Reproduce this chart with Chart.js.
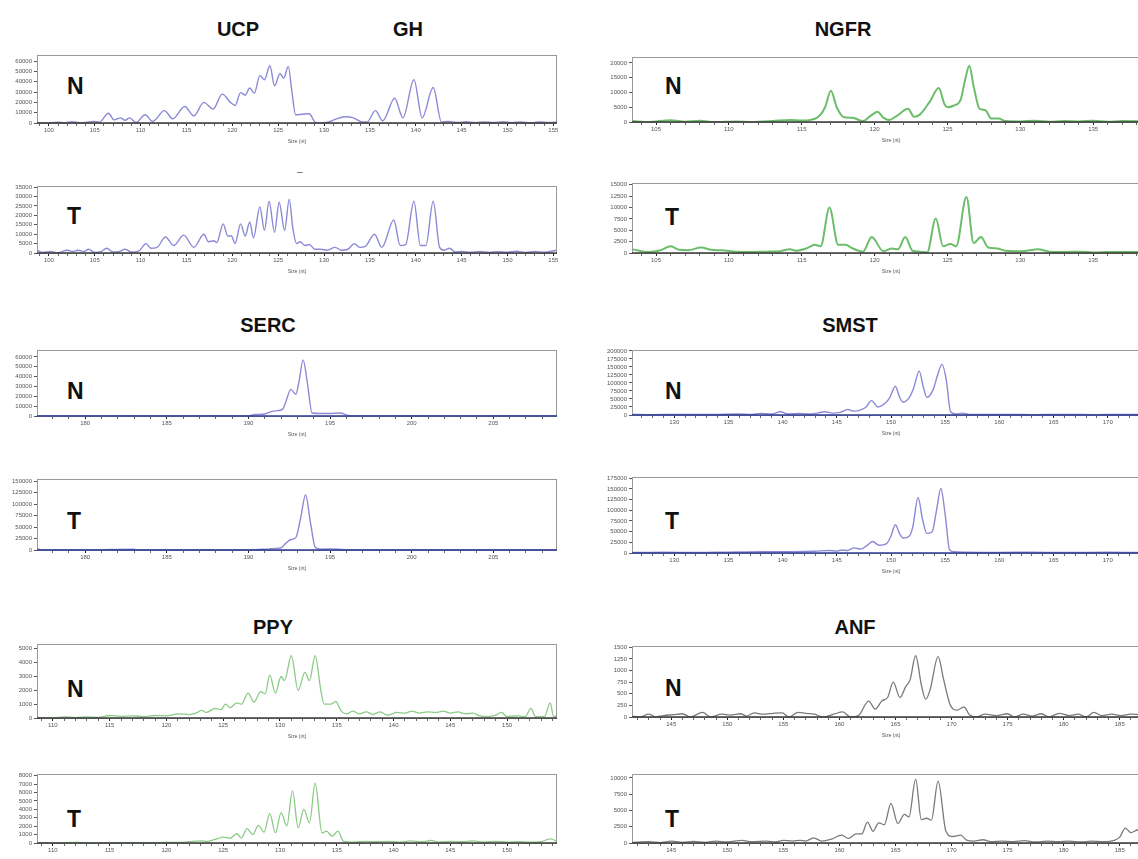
<!DOCTYPE html>
<html>
<head>
<meta charset="utf-8">
<script src="https://cdn.jsdelivr.net/npm/chart.js@4.4.1/dist/chart.umd.min.js"></script>
<style>
  body { margin: 0; width: 1138px; height: 859px; overflow: hidden; background: #fff; position: relative;
         font-family: "Liberation Sans", Arial, sans-serif; }
  canvas { position: absolute; }
  .ttl { position: absolute; font-weight: bold; font-size: 20px; line-height: 1; transform: translate(-50%, -50%); color: #111; }
  .lt { position: absolute; font-weight: bold; font-size: 23px; line-height: 1; transform: translateY(-50%); color: #111; }
</style>
</head>
<body>
<div class="ttl" style="left:238px;top:29px">UCP</div>
<div class="ttl" style="left:408px;top:29px">GH</div>
<div class="ttl" style="left:843px;top:29px">NGFR</div>
<div class="ttl" style="left:268px;top:325px">SERC</div>
<div class="ttl" style="left:850px;top:325px">SMST</div>
<div class="ttl" style="left:273px;top:627px">PPY</div>
<div class="ttl" style="left:855px;top:627px">ANF</div>
<div style="position:absolute;left:297px;top:166px;font-size:10px;color:#555">–</div>

<div class="lt" style="left:67px;top:86px">N</div>
<div class="lt" style="left:67px;top:216px">T</div>
<div class="lt" style="left:665px;top:86px">N</div>
<div class="lt" style="left:665px;top:217px">T</div>
<div class="lt" style="left:67px;top:391px">N</div>
<div class="lt" style="left:67px;top:521px">T</div>
<div class="lt" style="left:665px;top:391px">N</div>
<div class="lt" style="left:665px;top:521px">T</div>
<div class="lt" style="left:67px;top:689px">N</div>
<div class="lt" style="left:67px;top:819px">T</div>
<div class="lt" style="left:665px;top:688px">N</div>
<div class="lt" style="left:665px;top:819px">T</div>

<script>
// tick labels (size axis and RFU axis)
const ucpXTicks = [100, 105, 110, 115, 120, 125, 130, 135, 140, 145, 150, 155];
const ngfrXTicks = [105, 110, 115, 120, 125, 130, 135];
const sercXTicks = [180, 185, 190, 195, 200, 205];
const smstXTicks = [130, 135, 140, 145, 150, 155, 160, 165, 170];
const ppyXTicks = [110, 115, 120, 125, 130, 135, 140, 145, 150];
const anfXTicks = [145, 150, 155, 160, 165, 170, 175, 180, 185];

const ucpNYTicks = [0, 10000, 20000, 30000, 40000, 50000, 60000];
const ucpTYTicks = [0, 5000, 10000, 15000, 20000, 25000, 30000, 35000];
const ngfrNYTicks = [0, 5000, 10000, 15000, 20000];
const ngfrTYTicks = [0, 2500, 5000, 7500, 10000, 12500, 15000];
const sercNYTicks = [0, 10000, 20000, 30000, 40000, 50000, 60000];
const sercTYTicks = [0, 25000, 50000, 75000, 100000, 125000, 150000];
const smstNYTicks = [0, 25000, 50000, 75000, 100000, 125000, 150000, 175000, 200000];
const smstTYTicks = [0, 25000, 50000, 75000, 100000, 125000, 150000, 175000];
const ppyNYTicks = [0, 1000, 2000, 3000, 4000, 5000];
const ppyTYTicks = [0, 1000, 2000, 3000, 4000, 5000, 6000, 7000, 8000];
const anfNYTicks = [0, 250, 500, 750, 1000, 1250, 1500];
const anfTYTicks = [0, 2500, 5000, 7500, 10000];

// traces: [size (nt), signal]
const ucpN = [[98.7,500],[99.5,0],[100.3,300],[101,800],[101.8,200],[102.5,1200],[103.3,300],[104,500],[104.8,1500],[105.5,800],[106.5,9500],[107.1,3000],[107.8,5000],[108.3,2500],[108.8,5000],[109.5,500],[110.5,8000],[111.3,1500],[112.6,12000],[113.5,4000],[114.8,16000],[115.8,7000],[116.9,20000],[117.9,13500],[118.9,28000],[119.8,20000],[120.3,17000],[120.9,29500],[121.4,27000],[121.9,34000],[122.4,29000],[123.0,46000],[123.5,42000],[124.1,55500],[124.6,36000],[125.2,48000],[125.6,43500],[126.1,55000],[126.5,30000],[126.9,8000],[127.6,8500],[128.4,9000],[129.0,1000],[129.5,0],[130.5,1000],[131.2,3500],[132.3,6000],[133.2,5000],[134.2,1000],[134.7,1000],[135.6,12000],[136.4,2000],[137.7,24000],[138.6,5000],[139.8,42000],[140.7,5000],[141.9,34500],[142.8,1000],[143.5,1500],[144.5,600],[145.5,1200],[146.5,400],[147.5,1000],[148.5,500],[149.5,1200],[150.5,400],[151.5,1000],[152.5,300],[153.5,900],[154.5,500],[155.4,1000]];
const ucpT = [[98.7,1500],[99.3,300],[100.2,800],[101,200],[102,1500],[102.6,800],[103.2,1500],[103.8,700],[104.3,2000],[105,300],[105.7,800],[106.3,2500],[107,500],[107.7,800],[108.3,2000],[109,500],[109.8,1000],[110.6,5000],[111.1,2500],[111.8,3000],[112.7,8500],[113.6,4000],[114.7,9500],[115.8,3000],[116.9,10000],[117.4,6000],[118,6500],[118.3,5500],[119.0,15500],[119.5,9000],[119.9,9000],[120.3,5000],[120.9,15500],[121.4,9000],[121.9,16500],[122.3,8000],[123.0,24500],[123.5,12000],[124.0,27500],[124.6,11000],[125.1,27000],[125.7,12000],[126.2,28500],[126.6,13000],[127.0,5000],[127.4,6000],[127.9,4000],[128.4,4500],[129,2000],[129.6,2000],[130.3,1500],[131.2,3000],[131.9,1500],[132.6,2000],[133.3,5000],[133.9,3000],[134.5,3500],[135.5,10000],[136.3,3000],[137.6,17500],[138.3,4000],[138.9,4500],[139.8,27500],[140.5,4000],[141.1,4000],[141.9,27500],[142.6,3000],[143.1,1500],[143.7,2500],[144.3,500],[145,800],[146,400],[147,800],[148,300],[149,700],[150,400],[151,900],[152,300],[153,800],[154,400],[155.4,1500]];
const ngfrN = [[103.4,300],[104.5,0],[106,600],[107,100],[108,400],[109,0],[110.5,200],[111.5,0],[113,300],[114.2,700],[115,500],[115.5,600],[116.2,2000],[116.6,5000],[117.0,10600],[117.4,5000],[117.9,1600],[118.5,1400],[119.2,300],[119.7,2000],[120.2,3500],[120.6,1500],[121.0,700],[121.5,2000],[122.3,4500],[122.7,1800],[123.1,2500],[123.8,7000],[124.4,11500],[124.8,6000],[125.0,5000],[125.4,5500],[125.9,7500],[126.2,14000],[126.5,19000],[126.8,12000],[127.2,4500],[127.6,4000],[128.0,1200],[128.5,1200],[129,300],[130,200],[131,400],[132,100],[133,300],[134,200],[135,400],[136,100],[137,300],[138.9,200]];
const ngfrT = [[103.4,800],[104.5,200],[105.3,600],[106,1500],[106.6,700],[107.2,600],[108.1,1200],[108.8,700],[109.5,600],[110.5,300],[111.5,200],[112.5,300],[113.5,400],[114.2,800],[114.6,500],[115.3,1000],[115.9,1800],[116.3,1500],[116.9,10000],[117.5,1800],[118.0,1800],[118.5,1000],[119.2,300],[119.8,3500],[120.6,400],[121.2,1000],[121.6,800],[122.1,3500],[122.6,500],[123.1,300],[123.6,100],[124.2,7600],[124.7,1500],[125.2,2000],[125.6,1500],[126.3,12300],[126.8,2200],[127.3,3500],[127.8,1200],[128.4,1000],[129,500],[130,400],[130.6,600],[131.2,800],[132,300],[133,200],[134,300],[135,100],[136,200],[138.9,200]];
const sercN = [[177.05,0],[178,0],[180,0],[183,300],[185,0],[188,200],[190,0],[190.4,1500],[191,2000],[191.4,4500],[191.8,5500],[192.1,7000],[192.3,15000],[192.6,27000],[192.9,22000],[193.1,35000],[193.35,57000],[193.6,35000],[193.9,3000],[194.3,2500],[195,2500],[195.6,3000],[196.2,300],[197,0],[200,200],[203,0],[206,200],[208.9,0]];
const sercT = [[177.05,4000],[177.3,500],[177.8,0],[181,0],[181.5,1000],[183,1500],[183.2,0],[187,0],[187.5,800],[188,0],[190.3,500],[190.8,1500],[191.2,2000],[191.6,3500],[192.0,5000],[192.3,15000],[192.6,23000],[192.9,27000],[193.2,70000],[193.5,120000],[193.8,60000],[194.1,5000],[194.5,2000],[195.0,2500],[195.6,2000],[196,0],[208.9,0]];
const smstN = [[126.1,2000],[128,1000],[130,2000],[132,1500],[134,2000],[136,3000],[137,1500],[138,5000],[139,3000],[139.8,10000],[140.5,3000],[141.5,5000],[142.5,3000],[143.2,6000],[143.9,10000],[144.6,6000],[145.3,8000],[146.0,17000],[146.6,12000],[147.2,16000],[147.7,25000],[148.2,45000],[148.8,25000],[149.5,38000],[149.9,55000],[150.4,90000],[150.8,55000],[151.1,40000],[151.7,55000],[152.1,85000],[152.6,137000],[153.0,85000],[153.3,55000],[153.9,80000],[154.3,125000],[154.7,158000],[155.1,110000],[155.5,10000],[156.0,3000],[156.6,6000],[157.2,2000],[159,1500],[161,2000],[163,1000],[166,2000],[169,1000],[171,2000],[173.9,1000]];
const smstT = [[126.1,1000],[129,2000],[132,1000],[135,2000],[138,3000],[141,3000],[143,4000],[144.3,6000],[145,4500],[145.5,7000],[146,6000],[146.6,12000],[147.2,9000],[147.8,18000],[148.3,27000],[148.9,18000],[149.6,22000],[150.0,40000],[150.4,66000],[150.8,45000],[151.1,35000],[151.7,40000],[152.0,60000],[152.5,130000],[152.9,80000],[153.3,46000],[153.8,50000],[154.2,100000],[154.6,151000],[155.0,90000],[155.4,8000],[155.8,3000],[157,2000],[160,1500],[163,2000],[166,1000],[170,2000],[173.9,1000]];
const ppyN = [[108.6,50],[110,0],[111,80],[112,30],[113,80],[114,50],[115,180],[116,120],[117,150],[118,100],[119,180],[120,150],[121,300],[122,250],[122.6,350],[123.1,550],[123.5,400],[124.3,700],[124.8,600],[125.2,1000],[125.6,750],[126.2,1100],[126.6,1000],[127.2,1800],[127.7,1150],[128.3,1900],[128.7,1750],[129.1,3100],[129.6,1800],[130.1,3000],[130.4,2700],[131.0,4500],[131.6,2000],[132.2,3300],[132.6,2700],[133.1,4500],[133.6,2000],[133.9,1000],[134.5,1000],[134.9,1200],[135.4,500],[135.9,300],[136.4,500],[137,300],[137.6,450],[138.2,250],[138.8,450],[139.5,200],[140.3,400],[141,350],[141.6,500],[142.3,350],[143,450],[143.7,400],[144.4,500],[145,350],[145.7,450],[146.3,300],[147,350],[147.6,150],[148.3,100],[149,200],[149.5,400],[150,100],[151,150],[151.6,100],[152.1,700],[152.5,100],[153.3,100],[153.8,1100],[154.1,100],[154.4,150]];
const ppyT = [[108.6,50],[110,0],[112,60],[114,20],[116,50],[118,30],[120,80],[121,60],[122,150],[123,250],[123.6,200],[124.2,400],[125,700],[125.6,550],[126.2,1100],[126.6,600],[127.1,1700],[127.6,1000],[128.1,2100],[128.6,1300],[129.1,3500],[129.6,1200],[130.1,3600],[130.6,2000],[131.1,6200],[131.6,1800],[132.1,4000],[132.6,2400],[133.1,7100],[133.7,1200],[134.1,1400],[134.6,800],[135.1,1400],[135.6,200],[136.5,100],[137.5,200],[138.5,150],[139.5,200],[140.5,100],[141.5,250],[142.5,150],[143.3,300],[144,100],[145,200],[146,150],[147,250],[148,100],[149,200],[150,100],[151,150],[152,100],[153,150],[153.8,500],[154.4,200]];
const anfN = [[141.5,20],[142.2,0],[143,60],[143.6,0],[144.3,30],[145.2,50],[146,70],[146.7,0],[147.8,100],[148.5,0],[149.5,60],[150.3,40],[151.2,70],[151.7,20],[152.4,90],[153.2,60],[154.1,80],[154.9,90],[155.5,0],[156.3,100],[157,80],[157.8,60],[158.5,0],[159.5,60],[160.3,110],[161,0],[161.7,30],[162.6,340],[163.2,170],[163.8,350],[164.3,420],[164.8,750],[165.4,420],[165.9,650],[166.3,800],[166.8,1320],[167.3,700],[167.7,380],[168.1,600],[168.8,1300],[169.3,800],[169.9,250],[170.5,150],[171.1,220],[171.6,50],[172.2,0],[173,60],[174,30],[175,70],[175.6,0],[176.4,60],[177.2,20],[178,70],[178.7,0],[179.6,80],[180.5,30],[181.3,60],[182,0],[182.7,100],[183.4,30],[184.3,60],[185.1,30],[186,60],[187.7,30]];
const anfT = [[141.5,100],[143,200],[144,50],[145,300],[146,100],[147,250],[148,100],[149,300],[150,150],[151.3,400],[152.2,200],[153.5,300],[154.3,150],[155,400],[155.8,300],[156.5,400],[157.0,300],[157.7,800],[158.4,300],[159.3,600],[160.2,1200],[160.8,700],[161.5,1400],[162,1400],[162.5,3200],[163.0,1800],[163.5,3100],[164,2800],[164.6,6100],[165.2,3000],[165.8,4400],[166.2,4000],[166.8,9800],[167.3,3600],[167.8,3800],[168.2,3500],[168.8,9500],[169.5,1800],[170.1,1000],[170.8,1200],[171.4,400],[172,300],[172.8,500],[173.5,200],[174.5,300],[175.5,200],[176.5,350],[177.5,150],[178.5,300],[179.5,200],[180.5,300],[181.5,150],[182.5,300],[183.5,200],[184.5,400],[185.0,900],[185.5,2300],[186.0,1600],[186.6,2000],[187.0,1700],[187.7,1500]];

Chart.defaults.font.family = '"Liberation Sans", Arial, sans-serif';

const PURPLE = '#8c8ad6', GREEN = '#6cbd6a', LGREEN = '#8ccb86', GREY = '#7a7a7a';
const NAVY = '#2b3990', DARK = '#3a3a3a';

// box = [left, top, right, bottom] of the plot frame
const panels = [
  { data: ucpN,  x: [98.7, 155.4],  xt: ucpXTicks,  yt: ucpNYTicks,  yMax: 66000,  box: [37, 55, 557, 123],   c: PURPLE, base: DARK, lw: 1.4, yw: 36 },
  { data: ucpT,  x: [98.7, 155.4],  xt: ucpXTicks,  yt: ucpTYTicks,  yMax: 35600,  box: [37, 186, 557, 253],  c: PURPLE, base: DARK, lw: 1.4, yw: 36 },
  { data: ngfrN, x: [103.35, 138.9], xt: ngfrXTicks, yt: ngfrNYTicks, yMax: 22000,  box: [632, 57, 1150, 122],  c: GREEN, base: DARK, lw: 2, yw: 40 },
  { data: ngfrT, x: [103.35, 138.9], xt: ngfrXTicks, yt: ngfrTYTicks, yMax: 15400,  box: [632, 183, 1150, 253], c: GREEN, base: DARK, lw: 2, yw: 40 },
  { data: sercN, x: [177.05, 208.9], xt: sercXTicks, yt: sercNYTicks, yMax: 67000,  box: [37, 350, 557, 416],  c: PURPLE, base: NAVY, lw: 1.4, yw: 36 },
  { data: sercT, x: [177.05, 208.9], xt: sercXTicks, yt: sercTYTicks, yMax: 155000, box: [37, 479, 557, 550],  c: PURPLE, base: NAVY, lw: 1.4, yw: 36 },
  { data: smstN, x: [126.1, 173.9],  xt: smstXTicks, yt: smstNYTicks, yMax: 203000, box: [632, 350, 1150, 415], c: PURPLE, base: NAVY, lw: 1.4, yw: 40 },
  { data: smstT, x: [126.1, 173.9],  xt: smstXTicks, yt: smstTYTicks, yMax: 178000, box: [632, 477, 1150, 553], c: PURPLE, base: NAVY, lw: 1.4, yw: 40 },
  { data: ppyN,  x: [108.6, 154.4],  xt: ppyXTicks,  yt: ppyNYTicks,  yMax: 5350,   box: [37, 644, 557, 718],  c: LGREEN, base: DARK, lw: 1.3, yw: 36 },
  { data: ppyT,  x: [108.6, 154.4],  xt: ppyXTicks,  yt: ppyTYTicks,  yMax: 8200,   box: [37, 774, 557, 843],  c: LGREEN, base: DARK, lw: 1.3, yw: 36 },
  { data: anfN,  x: [141.5, 187.7],  xt: anfXTicks,  yt: anfNYTicks,  yMax: 1530,   box: [632, 646, 1150, 717], c: GREY, base: DARK, lw: 1.3, yw: 40 },
  { data: anfT,  x: [141.5, 187.7],  xt: anfXTicks,  yt: anfTYTicks,  yMax: 10600,  box: [632, 774, 1150, 843], c: GREY, base: DARK, lw: 1.3, yw: 40 }
];

const PT = 6, PR = 8, XH = 22;

// grey frame round the plot, dark base line at 0
const framePlugin = {
  id: 'frame',
  afterDraw(chart, args, opts) {
    const a = chart.chartArea, ctx = chart.ctx;
    ctx.save();
    ctx.strokeStyle = '#9a9a9a';
    ctx.lineWidth = 1;
    ctx.strokeRect(a.left + 0.5, a.top + 0.5, a.right - a.left - 1, a.bottom - a.top);
    ctx.strokeStyle = opts.base;
    ctx.lineWidth = 1.5;
    ctx.beginPath();
    ctx.moveTo(a.left, a.bottom);
    ctx.lineTo(a.right, a.bottom);
    ctx.stroke();
    ctx.restore();
  }
};

panels.forEach(p => {
  const [L, T, R, B] = p.box;
  const cv = document.createElement('canvas');
  cv.width = R - L + p.yw + PR;
  cv.height = B - T + PT + XH;
  cv.style.left = (L - p.yw) + 'px';
  cv.style.top = (T - PT) + 'px';
  document.body.appendChild(cv);

  const minor = [];
  for (let v = Math.ceil(p.x[0]); v <= Math.floor(p.x[1]); v++) minor.push(v);

  new Chart(cv.getContext('2d'), {
    type: 'line',
    data: {
      datasets: [{
        data: p.data.map(d => ({ x: d[0], y: d[1] })),
        borderColor: p.c,
        borderWidth: p.lw,
        pointRadius: 0,
        cubicInterpolationMode: 'monotone',
        fill: false
      }]
    },
    options: {
      responsive: false,
      animation: false,
      events: [],
      layout: { padding: { top: PT, right: PR, left: 0, bottom: 0 } },
      plugins: {
        legend: { display: false },
        tooltip: { enabled: false },
        frame: { base: p.base }
      },
      scales: {
        x: {
          type: 'linear',
          min: p.x[0],
          max: p.x[1],
          afterBuildTicks: s => { s.ticks = minor.map(v => ({ value: v })); },
          afterFit: s => { s.height = XH; },
          ticks: {
            autoSkip: false, maxRotation: 0, padding: 1,
            font: { size: 6 }, color: '#555',
            callback: v => p.xt.includes(v) ? String(v) : ''
          },
          grid: {
            drawOnChartArea: false, tickLength: 3,
            tickColor: ctx => (ctx.tick && p.xt.includes(ctx.tick.value)) ? '#222' : '#666'
          },
          border: { display: false },
          title: { display: true, text: 'Size (nt)', font: { size: 5 }, color: '#555', padding: 0 }
        },
        y: {
          min: 0,
          max: p.yMax,
          afterBuildTicks: s => { s.ticks = p.yt.map(v => ({ value: v })); },
          afterFit: s => { s.width = p.yw; },
          ticks: { autoSkip: false, font: { size: 6 }, color: '#555', padding: 2, callback: v => String(v) },
          grid: { drawOnChartArea: false, tickLength: 3, tickColor: '#555' },
          border: { display: false }
        }
      }
    },
    plugins: [framePlugin]
  });
});
</script>
</body>
</html>
